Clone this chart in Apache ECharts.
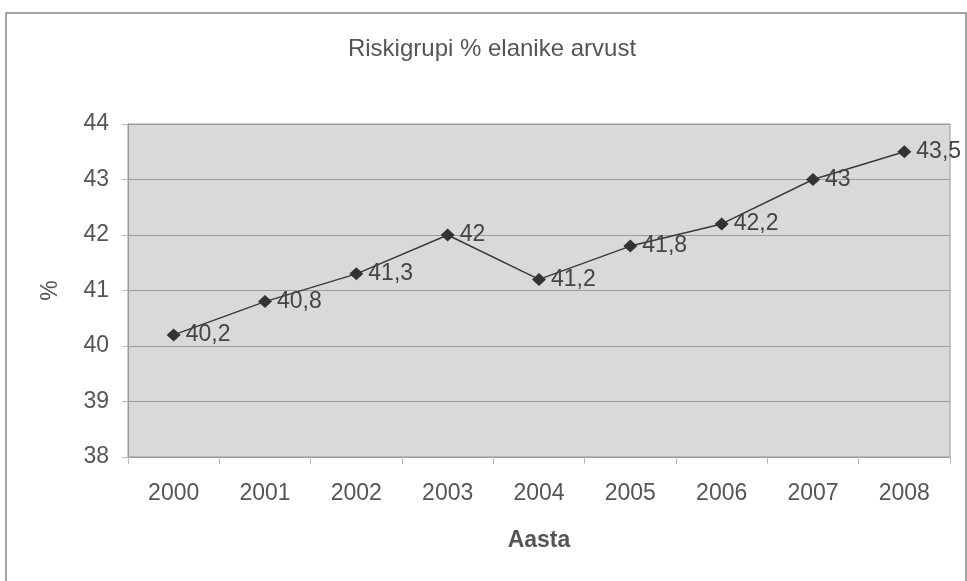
<!DOCTYPE html>
<html>
<head>
<meta charset="utf-8">
<script src="https://cdn.jsdelivr.net/npm/echarts@6/dist/echarts.min.js"></script>
<style>
  html, body { margin: 0; padding: 0; background: #fff; }
  #chart { width: 967px; height: 581px; }
</style>
</head>
<body>
<div id="chart"></div>
<script>
// andmed
var years = ['2000', '2001', '2002', '2003', '2004', '2005', '2006', '2007', '2008']
var values = [40.2, 40.8, 41.3, 42, 41.2, 41.8, 42.2, 43, 43.5]

var textColor = '#555'
var fontFamily = 'Liberation Sans, Arial'
var myChart = echarts.init(document.getElementById('chart'))

var option = {
  backgroundColor: '#fff',
  animation: false,
  title: {
    text: 'Riskigrupi % elanike arvust',
    left: 487,
    top: 32,
    textAlign: 'center',
    textStyle: {
      color: textColor,
      fontFamily: fontFamily,
      fontWeight: 'normal',
      fontSize: 24
    }
  },
  graphic: [{
    // välimine raam
    type: 'rect',
    shape: { x: 6, y: 13, width: 960, height: 580 },
    style: { fill: 'none', stroke: '#888', lineWidth: 1.5 },
    silent: true
  }],
  grid: {
    left: 128,
    right: 17,
    top: 124,
    bottom: 124,
    show: true,
    backgroundColor: '#d9d9d9',
    borderColor: '#999',
    borderWidth: 1
  },
  xAxis: {
    type: 'category',
    data: years,
    boundaryGap: true,
    name: 'Aasta',
    nameLocation: 'middle',
    nameGap: 72,
    nameTextStyle: {
      color: textColor,
      fontFamily: fontFamily,
      fontWeight: 'bold',
      fontSize: 23
    },
    axisLine: { show: true, lineStyle: { color: '#999' } },
    axisTick: { show: true, length: 7, lineStyle: { color: '#bbb' } },
    axisLabel: {
      color: textColor,
      fontFamily: fontFamily,
      fontSize: 23,
      margin: 25
    }
  },
  yAxis: {
    type: 'value',
    min: 38,
    max: 44,
    interval: 1,
    name: '%',
    nameLocation: 'middle',
    nameGap: 66,
    nameRotate: 90,
    nameTextStyle: {
      color: textColor,
      fontFamily: fontFamily,
      fontSize: 23
    },
    axisLine: { show: true, lineStyle: { color: '#999' } },
    axisTick: { show: true, length: 6, lineStyle: { color: '#bbb' } },
    splitLine: { show: true, lineStyle: { color: '#9a9a9a', width: 1 } },
    axisLabel: {
      color: textColor,
      fontFamily: fontFamily,
      fontSize: 23,
      margin: 19
    }
  },
  series: [{
    type: 'line',
    data: values,
    symbol: 'diamond',
    symbolSize: [14, 13],
    itemStyle: { color: '#333' },
    lineStyle: { color: '#3a3a3a', width: 1.5 },
    label: {
      show: true,
      position: 'right',
      distance: 5,
      color: '#444',
      fontFamily: fontFamily,
      fontSize: 23,
      formatter: function (p) {
        return String(p.value).replace('.', ',')
      }
    }
  }]
}

myChart.setOption(option)
</script>
</body>
</html>
